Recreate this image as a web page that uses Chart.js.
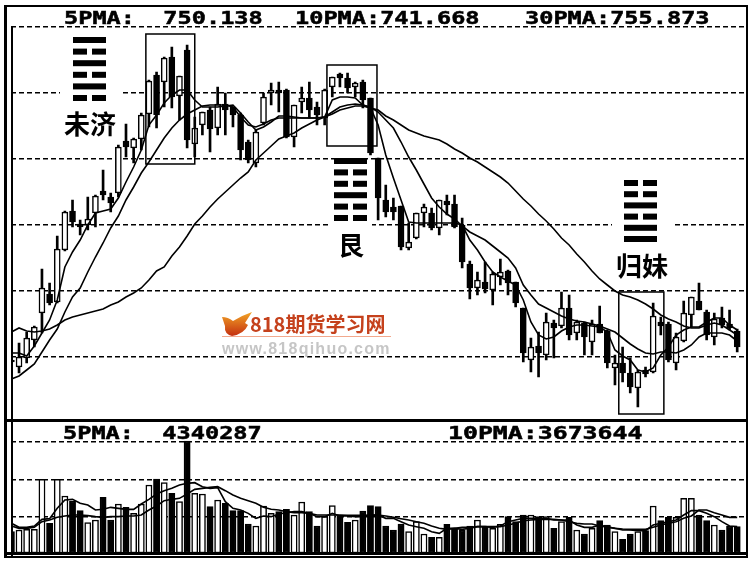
<!DOCTYPE html>
<html>
<head>
<meta charset="utf-8">
<style>
    html, body { margin: 0; padding: 0; background: #fff; }
    canvas { position: absolute; left: 0; }
    #priceChart { top: 0; }
    #volumeChart { top: 420px; }
</style>
<script src="https://cdn.jsdelivr.net/npm/chart.js@4"></script>
</head>
<body>
<canvas id="priceChart" width="750" height="420"></canvas>
<canvas id="volumeChart" width="750" height="149"></canvas>
<script>
const opens = [720,713,722,740,767,786,778,830,869,856,855,867,889,883,887,939,932,941,966,1005,998,1023,984,1030,936,955,970,952,976,973,965,938,917,957,987,990,990,943,978,982,973,962,993,1006,1002,993,998,982,922,880,873,874,832,842,867,867,852,879,876,855,816,792,798,790,803,809,798,772,720,734,725,757,754,772,747,757,738,756,749,712,717,707,692,710,708,758,756,717,739,765,779,768,743,762,756,749];
const closes = [718,723,742,753,792,777,831,868,858,853,861,884,885,877,933,933,941,965,999,965,1022,983,1004,940,952,968,951,976,970,965,930,920,948,983,990,987,943,975,982,970,965,990,1003,1002,992,997,980,927,882,868,868,833,838,867,873,852,880,875,853,818,792,800,791,806,808,797,777,727,733,727,758,752,772,745,758,743,756,747,717,717,707,693,708,706,764,754,720,743,767,783,770,745,761,755,752,733];
const highs = [722,737,748,754,811,797,844,869,880,860,883,885,910,887,935,956,942,967,1000,1008,1023,1033,1004,1035,963,968,973,993,987,973,967,940,950,987,997,998,991,975,993,998,978,991,1003,1007,1007,998,1000,982,922,895,882,874,857,867,876,872,880,885,885,862,819,808,818,808,821,810,798,772,742,748,767,760,788,785,760,758,760,774,750,725,733,722,710,713,777,763,758,747,779,783,797,770,767,773,770,751];
const lows = [716,707,717,733,747,775,777,829,853,845,850,853,880,868,883,923,917,930,953,952,973,972,960,932,923,945,928,945,945,953,920,917,913,955,975,968,942,933,967,962,955,955,983,993,987,983,972,925,860,863,860,830,830,841,853,850,845,865,852,812,781,785,787,775,795,785,773,718,708,703,720,722,752,740,740,725,725,747,712,695,698,687,673,703,707,745,718,710,738,753,770,740,735,752,750,728];

const ma5 = [727,727,724,734,747,760,780,813,828,840,855,867,869,871,882,898,913,930,955,965,977,985,990,990,980,973,973,973,974,975,967,958,950,953,958,964,964,963,962,962,962,963,980,983,983,982,975,972,955,925,902,880,858,857,857,857,857,857,857,855,840,830,818,808,803,799,795,780,758,745,741,743,749,753,755,755,754,753,748,730,724,720,710,708,712,725,733,745,750,753,753,758,762,762,755,750];
const ma10 = [701,704,710,716,728,740,751,768,783,792,808,823,837,852,864,880,893,907,918,930,942,952,960,966,970,974,975,975,975,973,963,955,953,956,960,962,962,962,962,962,962,963,968,973,975,976,975,973,968,960,952,938,923,910,896,882,873,866,861,854,848,844,840,834,828,822,812,795,785,776,772,768,764,761,759,758,756,754,751,748,742,736,731,727,726,728,728,727,730,735,743,747,747,747,745,739];
const ma30 = [748,752,749,748,749,751,755,760,763,765,767,769,771,775,778,783,787,792,800,809,813,824,833,844,856,864,873,881,888,895,902,908,920,927,934,941,944,947,952,956,960,963,966,970,972,974,974,972,970,964,960,955,950,947,944,942,940,936,931,927,922,918,913,908,903,897,889,881,874,866,859,851,842,835,826,818,809,801,795,789,785,783,780,776,771,765,761,758,754,752,752,755,757,755,750,745];

const volumes = [64,69,71,71,221,89,221,171,156,127,91,99,167,99,147,137,119,147,204,222,211,179,154,336,179,177,139,159,149,127,127,87,81,141,119,124,131,114,153,124,81,109,142,114,92,99,126,142,139,81,69,87,64,94,57,47,47,86,74,69,81,99,79,74,86,109,94,114,114,109,109,74,94,107,69,57,74,97,84,64,41,57,64,67,141,97,107,107,164,164,114,97,84,69,81,79];
const volMa5 = [89,77,77,81,101,103,134,159,161,149,144,129,131,137,134,131,131,147,161,177,187,194,204,209,211,199,194,196,154,134,129,119,104,111,109,117,121,124,124,119,109,109,119,111,111,109,111,114,114,104,104,94,84,79,74,64,59,74,74,71,74,79,79,77,81,94,99,104,104,104,104,99,99,99,84,77,77,84,79,74,69,69,67,67,84,89,94,99,114,127,127,119,109,94,81,79];
const volMa10 = [81,74,74,77,94,99,107,111,114,114,112,109,107,109,109,111,111,114,129,141,157,161,164,177,191,194,197,199,187,174,164,157,149,137,131,129,124,121,121,119,114,114,114,114,113,113,113,113,114,111,107,103,99,94,89,81,74,71,74,77,77,79,79,79,79,84,89,97,99,101,101,101,99,94,89,87,87,81,77,74,72,71,71,71,77,84,89,94,104,111,129,129,121,114,107,107];

const days = [];
for (let d = 0; d <= volumes.length; d++) days.push(String(d + 1));

const priceGrid = [723, 789, 855, 921, 987, 1053];
const volumeGrid = [109, 219, 334];

const priceLabels = [
    ["5PMA:  750.138", 64],
    ["10PMA:741.668", 295],
    ["30PMA:755.873", 525],
];
const volumeLabels = [
    ["5PMA:  4340287", 63],
    ["10PMA:3673644", 448],
];

// hexagrams read top to bottom, 1 = solid line, 0 = broken line
const weiJi = [1, 0, 1, 0, 1, 0];
const gen = [1, 0, 0, 1, 0, 0];
const guiMei = [0, 0, 1, 0, 1, 1];

function isUp(i) {
    return closes[i] >= opens[i];
}

function lineSet(label, data) {
    return {
        type: "line",
        label: label,
        data: data,
        borderColor: "#000",
        borderWidth: 1.6,
        pointRadius: 0,
        tension: 0,
        order: 0,
    };
}

// the label font of the old terminal is much wider than any installed mono font
function label(ctx, text, x, y, stretch) {
    ctx.save();
    ctx.translate(x, y);
    ctx.scale(stretch, 1);
    ctx.font = "bold 18px 'DejaVu Sans Mono'";
    ctx.fillStyle = "#000";
    ctx.strokeStyle = "#000";
    ctx.lineWidth = 0.5;
    ctx.textAlign = "left";
    ctx.fillText(text, 0, 0);
    ctx.strokeText(text, 0, 0);
    ctx.restore();
}

function hexagram(ctx, rows, x, y, gap) {
    ctx.fillStyle = "#000";
    rows.forEach(function (row, n) {
        const top = y + n * gap;
        if (row == 1) {
            ctx.fillRect(x, top, 33, 6);
        } else {
            ctx.fillRect(x, top, 14, 6);
            ctx.fillRect(x + 19, top, 14, 6);
        }
    });
}

function box(ctx, scales, k1, k2, p1, p2) {
    const x1 = scales.x.getPixelForValue(k1);
    const x2 = scales.x.getPixelForValue(k2);
    const y1 = scales.y.getPixelForValue(p1);
    const y2 = scales.y.getPixelForValue(p2);
    ctx.strokeRect(x1, y1, x2 - x1, y2 - y1);
}

function watermark(ctx) {
    // hand logo
    const g = ctx.createLinearGradient(0, 312, 0, 336);
    g.addColorStop(0, "#f2a526");
    g.addColorStop(1, "#c42f10");
    ctx.fillStyle = g;
    ctx.beginPath();
    ctx.moveTo(222, 317);
    ctx.quadraticCurveTo(228, 317, 233, 321);
    ctx.quadraticCurveTo(243, 315, 252, 312);
    ctx.lineTo(245, 323);
    ctx.lineTo(248, 325);
    ctx.quadraticCurveTo(244, 334, 232, 336);
    ctx.quadraticCurveTo(224, 334, 225, 326);
    ctx.closePath();
    ctx.fill();

    ctx.textAlign = "left";
    ctx.fillStyle = "#c5411c";
    ctx.font = "bold 20px 'Noto Sans CJK SC'";
    ctx.fillText("818期货学习网", 250, 332);

    ctx.fillStyle = "#f2a98e";
    ctx.fillRect(222, 336, 169, 1);

    ctx.fillStyle = "#c6c6c6";
    ctx.font = "bold 16px 'Liberation Sans'";
    ctx.letterSpacing = "1.25px";
    ctx.fillText("www.818qihuo.com", 222, 354);
    ctx.letterSpacing = "0px";
}

const priceDecor = {
    id: "priceDecor",
    beforeDatasetsDraw(chart) {
        // the gridlines stop behind the hexagrams
        const ctx = chart.ctx;
        ctx.save();
        ctx.fillStyle = "#fff";
        ctx.fillRect(60, 88, 60, 10);
        ctx.fillRect(330, 220, 42, 10);
        ctx.fillRect(612, 220, 63, 10);
        ctx.restore();
    },
    afterDraw(chart) {
        const ctx = chart.ctx;
        ctx.save();

        ctx.fillStyle = "#000";
        ctx.fillRect(4, 5, 744, 2);
        ctx.fillRect(4, 5, 3, 415);
        ctx.fillRect(746, 5, 2, 415);
        ctx.fillRect(4, 419, 744, 2);
        ctx.fillRect(11, 27, 2, 392);

        ctx.strokeStyle = "#000";
        ctx.lineWidth = 1.5;
        box(ctx, chart.scales, 17.6, 24, 1046, 916);
        box(ctx, chart.scales, 41.3, 47.85, 1015, 934);
        box(ctx, chart.scales, 79.5, 85.4, 788, 666);

        hexagram(ctx, weiJi, 73, 37, 11.6);
        hexagram(ctx, gen, 334, 158, 11.4);
        hexagram(ctx, guiMei, 624, 180, 11.2);

        ctx.fillStyle = "#000";
        ctx.textAlign = "center";
        ctx.font = "bold 26px 'Noto Sans CJK SC'";
        ctx.fillText("未济", 90, 134);
        ctx.fillText("艮", 351, 255);
        ctx.fillText("归妹", 642, 276);

        priceLabels.forEach(function (l) {
            label(ctx, l[0], l[1], 24, 1.31);
        });

        watermark(ctx);
        ctx.restore();
    },
};

const volumeDecor = {
    id: "volumeDecor",
    afterDraw(chart) {
        const ctx = chart.ctx;
        ctx.save();
        ctx.fillStyle = "#000";
        // canvas starts at y = 420
        ctx.fillRect(4, 0, 744, 2);
        ctx.fillRect(4, 0, 3, 138);
        ctx.fillRect(746, 0, 2, 138);
        ctx.fillRect(4, 132, 744, 3);
        ctx.fillRect(4, 136, 744, 2);
        ctx.fillRect(11, 2, 2, 134);
        label(ctx, volumeLabels[0][0], volumeLabels[0][1], 19, 1.31);
        label(ctx, volumeLabels[1][0], volumeLabels[1][1], 19, 1.38);
        ctx.restore();
    },
};

function yAxis(min, max, grid) {
    return {
        min: min,
        max: max,
        afterBuildTicks: function (axis) {
            axis.ticks = grid.map((v) => ({ value: v }));
        },
        ticks: { display: false },
        grid: { color: "#000", lineWidth: 1.6, drawTicks: false },
        border: { display: false, dash: [5, 3] },
    };
}

const xAxis = { display: false, offset: false };

new Chart(document.getElementById("priceChart"), {
    type: "bar",
    data: {
        labels: days,
        datasets: [
            lineSet("5PMA", ma5),
            lineSet("10PMA", ma10),
            lineSet("30PMA", ma30),
            {
                label: "body",
                data: opens.map((o, i) => [Math.min(o, closes[i]), Math.max(o, closes[i])]),
                backgroundColor: opens.map((o, i) => (isUp(i) ? "#fff" : "#000")),
                borderColor: "#000",
                borderWidth: 1.5,
                borderSkipped: false,
                barThickness: 6,
                grouped: false,
                order: 1,
            },
            {
                label: "wick",
                data: lows.map((l, i) => [l, highs[i]]),
                backgroundColor: "#000",
                barThickness: 2,
                grouped: false,
                order: 2,
            },
        ],
    },
    options: {
        responsive: false,
        animation: false,
        layout: { padding: { left: 11.4, right: 5.16, top: 27, bottom: 4 } },
        plugins: { legend: { display: false }, tooltip: { enabled: false } },
        scales: { x: xAxis, y: yAxis(664, 1053, priceGrid) },
    },
    plugins: [priceDecor],
});

new Chart(document.getElementById("volumeChart"), {
    type: "bar",
    data: {
        labels: days,
        datasets: [
            lineSet("5PMA", volMa5),
            lineSet("10PMA", volMa10),
            {
                label: "volume",
                data: volumes,
                backgroundColor: volumes.map((v, i) => (isUp(i) ? "#fff" : "#000")),
                borderColor: "#000",
                borderWidth: 1.5,
                borderSkipped: false,
                barThickness: 6.2,
                order: 1,
            },
        ],
    },
    options: {
        responsive: false,
        animation: false,
        layout: { padding: { left: 11.4, right: 5.16, top: 3, bottom: 16 } },
        plugins: { legend: { display: false }, tooltip: { enabled: false } },
        scales: { x: xAxis, y: yAxis(0, 390, volumeGrid) },
    },
    plugins: [volumeDecor],
});
</script>
</body>
</html>
